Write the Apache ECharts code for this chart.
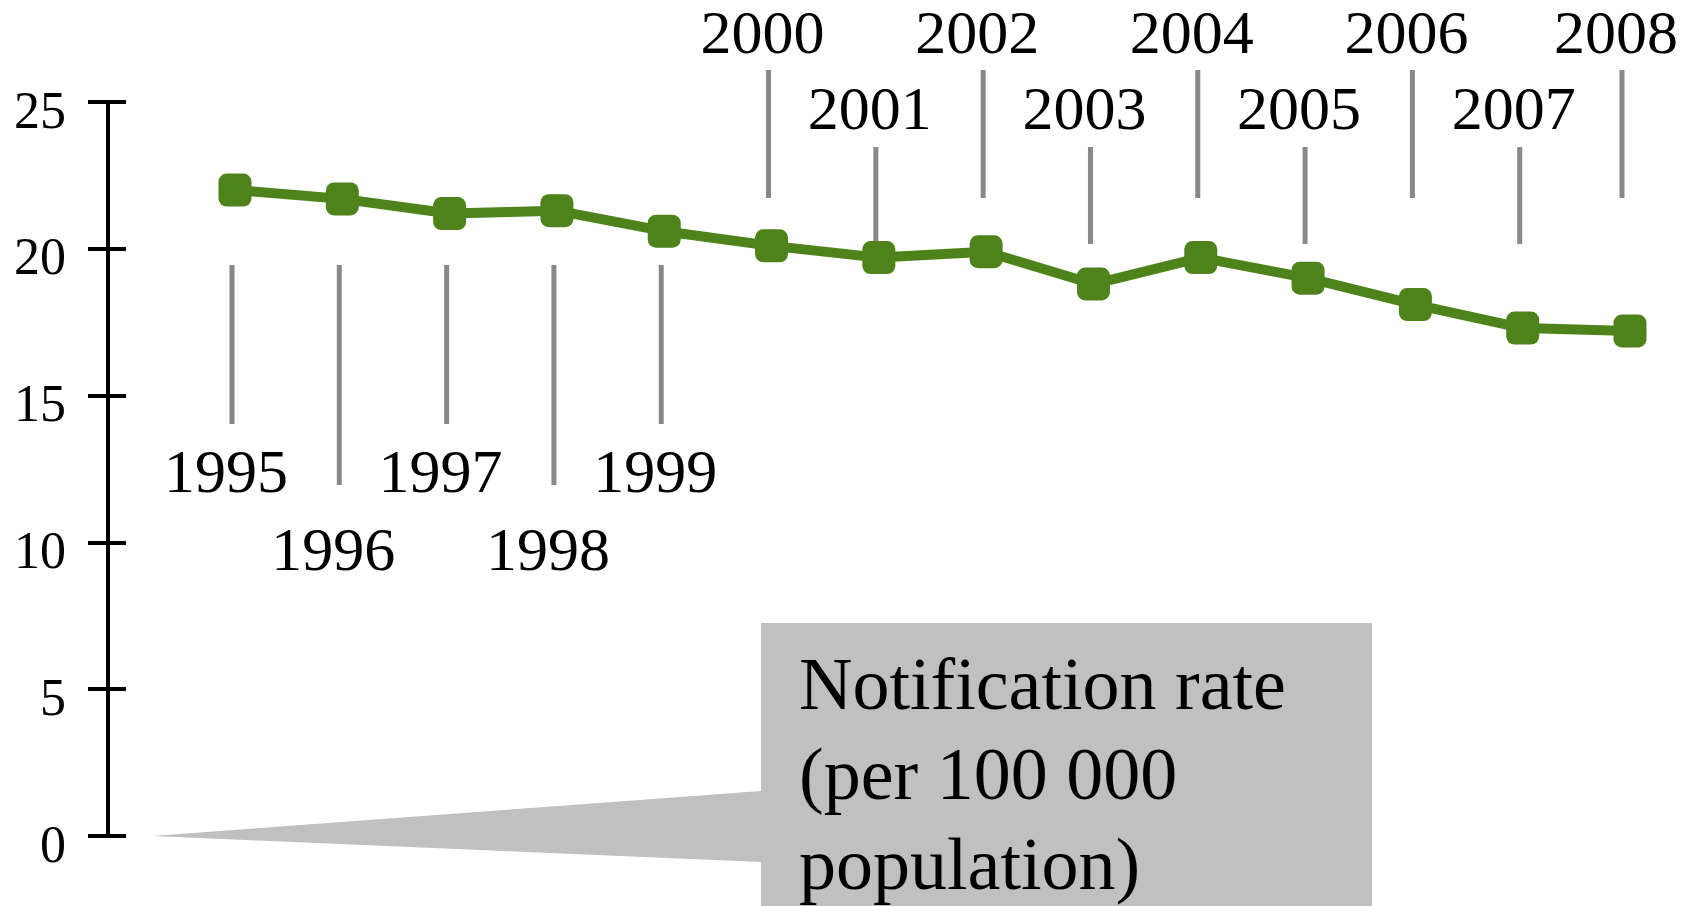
<!DOCTYPE html>
<html>
<head>
<meta charset="utf-8">
<script src="https://cdn.jsdelivr.net/npm/echarts@6/dist/echarts.min.js"></script>
<style>
  html, body { margin: 0; padding: 0; background: #fff; }
  #chart { width: 1691px; height: 906px; }
</style>
</head>
<body>
<div id="chart"></div>
<script>
// values
const years = ['1995', '1996', '1997', '1998', '1999', '2000', '2001',
               '2002', '2003', '2004', '2005', '2006', '2007', '2008'];
const rates = [22.0, 21.7, 21.2, 21.3, 20.6, 20.1, 19.7,
               19.9, 18.8, 19.7, 19.0, 18.1, 17.3, 17.2];
const yTicks = [0, 5, 10, 15, 20, 25];
const calloutText = ['Notification rate', '(per 100 000', 'population)'];

const FONT = '"Liberation Serif", "Times New Roman", serif';
const green = '#4e831b';
const leaderGray = '#888888';

const chart = echarts.init(document.getElementById('chart'));

// year labels with their leader lines: first five below the line, the rest above
function renderYear(params, api) {
    const i = api.value(0);
    const x = api.coord([i, 0])[0];
    const top = api.coord([i, yTicks[yTicks.length - 1]])[1];
    let l1, l2, ty;
    if (i < 5) {
        if (i % 2 === 0) { l1 = top + 163; l2 = top + 322; ty = top + 374; }
        else { l1 = top + 163; l2 = top + 383; ty = top + 452; }
    } else {
        if ((i - 5) % 2 === 0) { l1 = top - 32; l2 = top + 96; ty = top - 65; }
        else { l1 = top + 45; l2 = top + 142; ty = top + 11; }
    }
    const lx = i === years.length - 1 ? x - 8 : x - 3;
    return {
        type: 'group',
        children: [
            {
                type: 'line',
                shape: { x1: lx, y1: l1, x2: lx, y2: l2 },
                style: { stroke: leaderGray, lineWidth: 5 }
            },
            {
                type: 'text',
                style: {
                    text: years[i], x: lx - 6, y: ty,
                    align: 'center', verticalAlign: 'middle',
                    fontSize: 62, fontFamily: FONT, fill: '#000'
                }
            }
        ]
    };
}

const option = {
    animation: false,
    textStyle: { fontFamily: FONT },
    grid: { left: 235, right: 61, top: 102, bottom: 70 },
    xAxis: {
        type: 'category',
        data: years,
        boundaryGap: false,
        show: false
    },
    yAxis: [
        {
            type: 'value',
            min: 0, max: 25, interval: 5,
            offset: 127,
            axisLine: { show: true, lineStyle: { color: '#000', width: 4 } },
            axisTick: { show: true, length: 20, lineStyle: { color: '#000', width: 4 } },
            axisLabel: {
                color: '#000', fontSize: 52, fontFamily: FONT,
                margin: 42, verticalAlign: 'top', lineHeight: 24
            },
            splitLine: { show: false }
        },
        {
            type: 'value',
            min: 0, max: 25, interval: 5,
            offset: 127,
            position: 'left',
            axisLine: { show: false },
            axisTick: { show: true, inside: true, length: 18, lineStyle: { color: '#000', width: 4 } },
            axisLabel: { show: false },
            splitLine: { show: false }
        }
    ],
    series: [
        {
            type: 'custom',
            renderItem: renderYear,
            data: years.map((y, i) => [i]),
            encode: { x: 0 },
            clip: false,
            silent: true,
            z: 1
        },
        {
            type: 'line',
            data: rates,
            yAxisIndex: 0,
            symbol: 'roundRect',
            symbolSize: 33,
            itemStyle: { color: green },
            lineStyle: { color: green, width: 10 },
            z: 3
        }
    ],
    graphic: [
        {
            type: 'polygon',
            shape: {
                points: [[761, 623], [1372, 623], [1372, 906], [761, 906],
                         [761, 862], [152, 836], [761, 791]]
            },
            style: { fill: '#c0c0c0' },
            z: 0
        },
        {
            type: 'text',
            left: 799,
            top: 645,
            style: {
                text: calloutText.join('\n'),
                fontSize: 74,
                lineHeight: 90,
                fontFamily: FONT,
                fill: '#000'
            },
            z: 1
        }
    ]
};

chart.setOption(option);
</script>
</body>
</html>
